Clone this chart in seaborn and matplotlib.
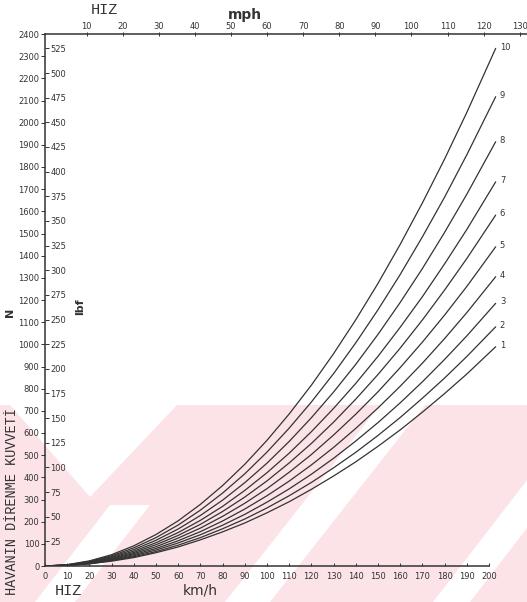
import numpy as np
import pandas as pd
import matplotlib
matplotlib.use("Agg")
import matplotlib.pyplot as plt
from matplotlib.patches import Polygon
import seaborn as sns

# speed (km/h) and air resistance force (N), curves 1..10
speed_kmh = [0, 10, 20, 30, 40, 50, 60, 70, 80, 90, 100,
             110, 120, 130, 140, 150, 160, 170, 180, 190, 203]
curve_1 = [0, 2, 10, 22, 38, 60, 86, 118, 154, 194, 240,
           290, 346, 406, 470, 540, 614, 694, 778, 866, 989]
curve_2 = [0, 3, 10, 24, 42, 65, 94, 128, 168, 212, 262,
           317, 377, 443, 513, 589, 670, 757, 848, 945, 1079]
curve_3 = [0, 3, 11, 26, 46, 72, 104, 141, 184, 233, 288,
           348, 414, 486, 564, 647, 736, 831, 932, 1038, 1185]
curve_4 = [0, 3, 13, 29, 51, 79, 114, 155, 203, 257, 317,
           383, 456, 535, 621, 713, 811, 915, 1026, 1143, 1305]
curve_5 = [0, 3, 14, 31, 56, 87, 126, 171, 224, 283, 349,
           423, 503, 591, 685, 786, 895, 1010, 1132, 1261, 1440]
curve_6 = [0, 4, 15, 35, 61, 96, 138, 188, 246, 311, 384,
           465, 553, 649, 753, 864, 983, 1110, 1245, 1387, 1583]
curve_7 = [0, 4, 17, 38, 67, 105, 151, 206, 269, 341, 421,
           509, 606, 711, 824, 946, 1077, 1215, 1363, 1518, 1733]
curve_8 = [0, 5, 19, 42, 74, 116, 167, 228, 297, 376, 464,
           562, 669, 785, 910, 1045, 1189, 1342, 1505, 1677, 1914]
curve_9 = [0, 5, 21, 46, 82, 128, 185, 252, 329, 416, 514,
           622, 740, 868, 1007, 1156, 1315, 1485, 1664, 1855, 2117]
curve_10 = [0, 6, 23, 51, 91, 142, 204, 278, 363, 459, 567,
            686, 816, 958, 1111, 1275, 1451, 1638, 1836, 2046, 2335]
curves = [curve_1, curve_2, curve_3, curve_4, curve_5,
          curve_6, curve_7, curve_8, curve_9, curve_10]
curve_labels = ["1", "2", "3", "4", "5", "6", "7", "8", "9", "10"]

n_ticks = list(range(0, 2401, 100))
lbf_ticks = list(range(25, 526, 25))
kmh_ticks = list(range(0, 201, 10))
mph_ticks = list(range(10, 131, 10))

W, H = 527, 602
INK = "#333333"


def fx(x):
    return x / W


def fy(y):
    return 1 - y / H


sns.set_theme(style="ticks")
plt.rcParams["font.family"] = ["DejaVu Sans"]

fig = plt.figure(figsize=(W / 100, H / 100), dpi=100)
fig.patch.set_facecolor("white")

# pink watermark stripes in the lower part of the scan
pink = "#fbe3e7"
fig.add_artist(Polygon([(fx(0), fy(405)), (fx(W), fy(405)), (fx(W), fy(H)), (fx(0), fy(H))],
                       closed=True, transform=fig.transFigure, facecolor=pink,
                       edgecolor="none", zorder=0))
white_shapes = [
    [(10, 405), (90, 497), (177, 405)],
    [(225, 602), (270, 602), (425, 405), (380, 405)],
    [(433, 602), (470, 602), (622, 405), (585, 405)],
    [(35, 602), (75, 602), (150, 505), (110, 505)],
]
for shp in white_shapes:
    fig.add_artist(Polygon([(fx(a), fy(b)) for a, b in shp], closed=True,
                           transform=fig.transFigure, facecolor="white",
                           edgecolor="none", zorder=0))

ax = fig.add_axes([fx(45), fy(566), fx(W - 45), (566 - 34) / H])
ax.set_facecolor("none")

rows = []
for lab, vals in zip(curve_labels, curves):
    for v, f in zip(speed_kmh, vals):
        rows.append({"speed": v, "force": f, "curve": lab})
df = pd.DataFrame(rows)

sns.lineplot(data=df, x="speed", y="force", hue="curve", units="curve",
             estimator=None, palette=[INK] * len(curves), linewidth=0.9,
             legend=False, ax=ax)

for lab, vals in zip(curve_labels, curves):
    ax.annotate(lab, (speed_kmh[-1], vals[-1]), xytext=(3, 1),
                textcoords="offset points", fontsize=6, color=INK,
                ha="left", va="center")

ax.set_xlim(0, (W - 45) / 2.22)
ax.set_ylim(0, 2400)
ax.set_xlabel("")
ax.set_ylabel("")

ax.spines["right"].set_visible(False)
ax.spines["top"].set_visible(False)
ax.spines["bottom"].set_bounds(0, 200)
for s in ["left", "bottom"]:
    ax.spines[s].set_color(INK)
    ax.spines[s].set_linewidth(1.1)

ax.set_xticks(kmh_ticks)
ax.set_yticks(n_ticks)
ax.tick_params(axis="x", direction="in", length=2.5, width=0.7, colors=INK,
               labelsize=6, pad=4)
ax.tick_params(axis="y", direction="out", length=3, width=0.7, colors=INK,
               labelsize=6, pad=1)

# lbf scale drawn on the same left spine, labels on its right side
ax_lbf = ax.secondary_yaxis(0, functions=(lambda n: n / 4.448, lambda l: l * 4.448))
ax_lbf.set_alignment("right")
ax_lbf.set_yticks(lbf_ticks)
ax_lbf.tick_params(direction="out", length=3, width=0.7, colors=INK,
                   labelsize=6, pad=1)
ax_lbf.spines["right"].set_visible(False)

# mph scale along the top
ax_top = ax.twiny()
ax_top.set_facecolor("none")
ax_top.set_xlim(-1.5, 132)
ax_top.set_xticks(mph_ticks)
for s in ["left", "right", "bottom"]:
    ax_top.spines[s].set_visible(False)
ax_top.spines["top"].set_color(INK)
ax_top.spines["top"].set_linewidth(1.1)
ax_top.tick_params(axis="x", direction="inout", length=3, width=0.7, colors=INK,
                   labelsize=6, pad=1)

mono = ["Liberation Mono", "DejaVu Sans Mono"]
fig.text(fx(12), fy(502), "HAVANIN DİRENME KUVVETİ", rotation=90, family=mono,
         fontsize=9.8, color=INK, ha="center", va="center")
fig.text(fx(68), fy(591), "HIZ", family=mono, fontsize=11, color=INK,
         ha="center", va="center")
fig.text(fx(104), fy(10), "HIZ", family=mono, fontsize=11, color=INK,
         ha="center", va="center")
fig.text(fx(200), fy(590), "km/h", fontsize=10, color=INK, ha="center", va="center")
fig.text(fx(245), fy(15), "mph", fontsize=10, fontweight="bold", color=INK,
         ha="center", va="center")
fig.text(fx(10), fy(312), "N", rotation=90, fontsize=8, fontweight="bold",
         color=INK, ha="center", va="center")
fig.text(fx(80), fy(307), "lbf", rotation=90, fontsize=8, fontweight="bold",
         color=INK, ha="center", va="center")

fig.savefig("out.png", dpi=100)
